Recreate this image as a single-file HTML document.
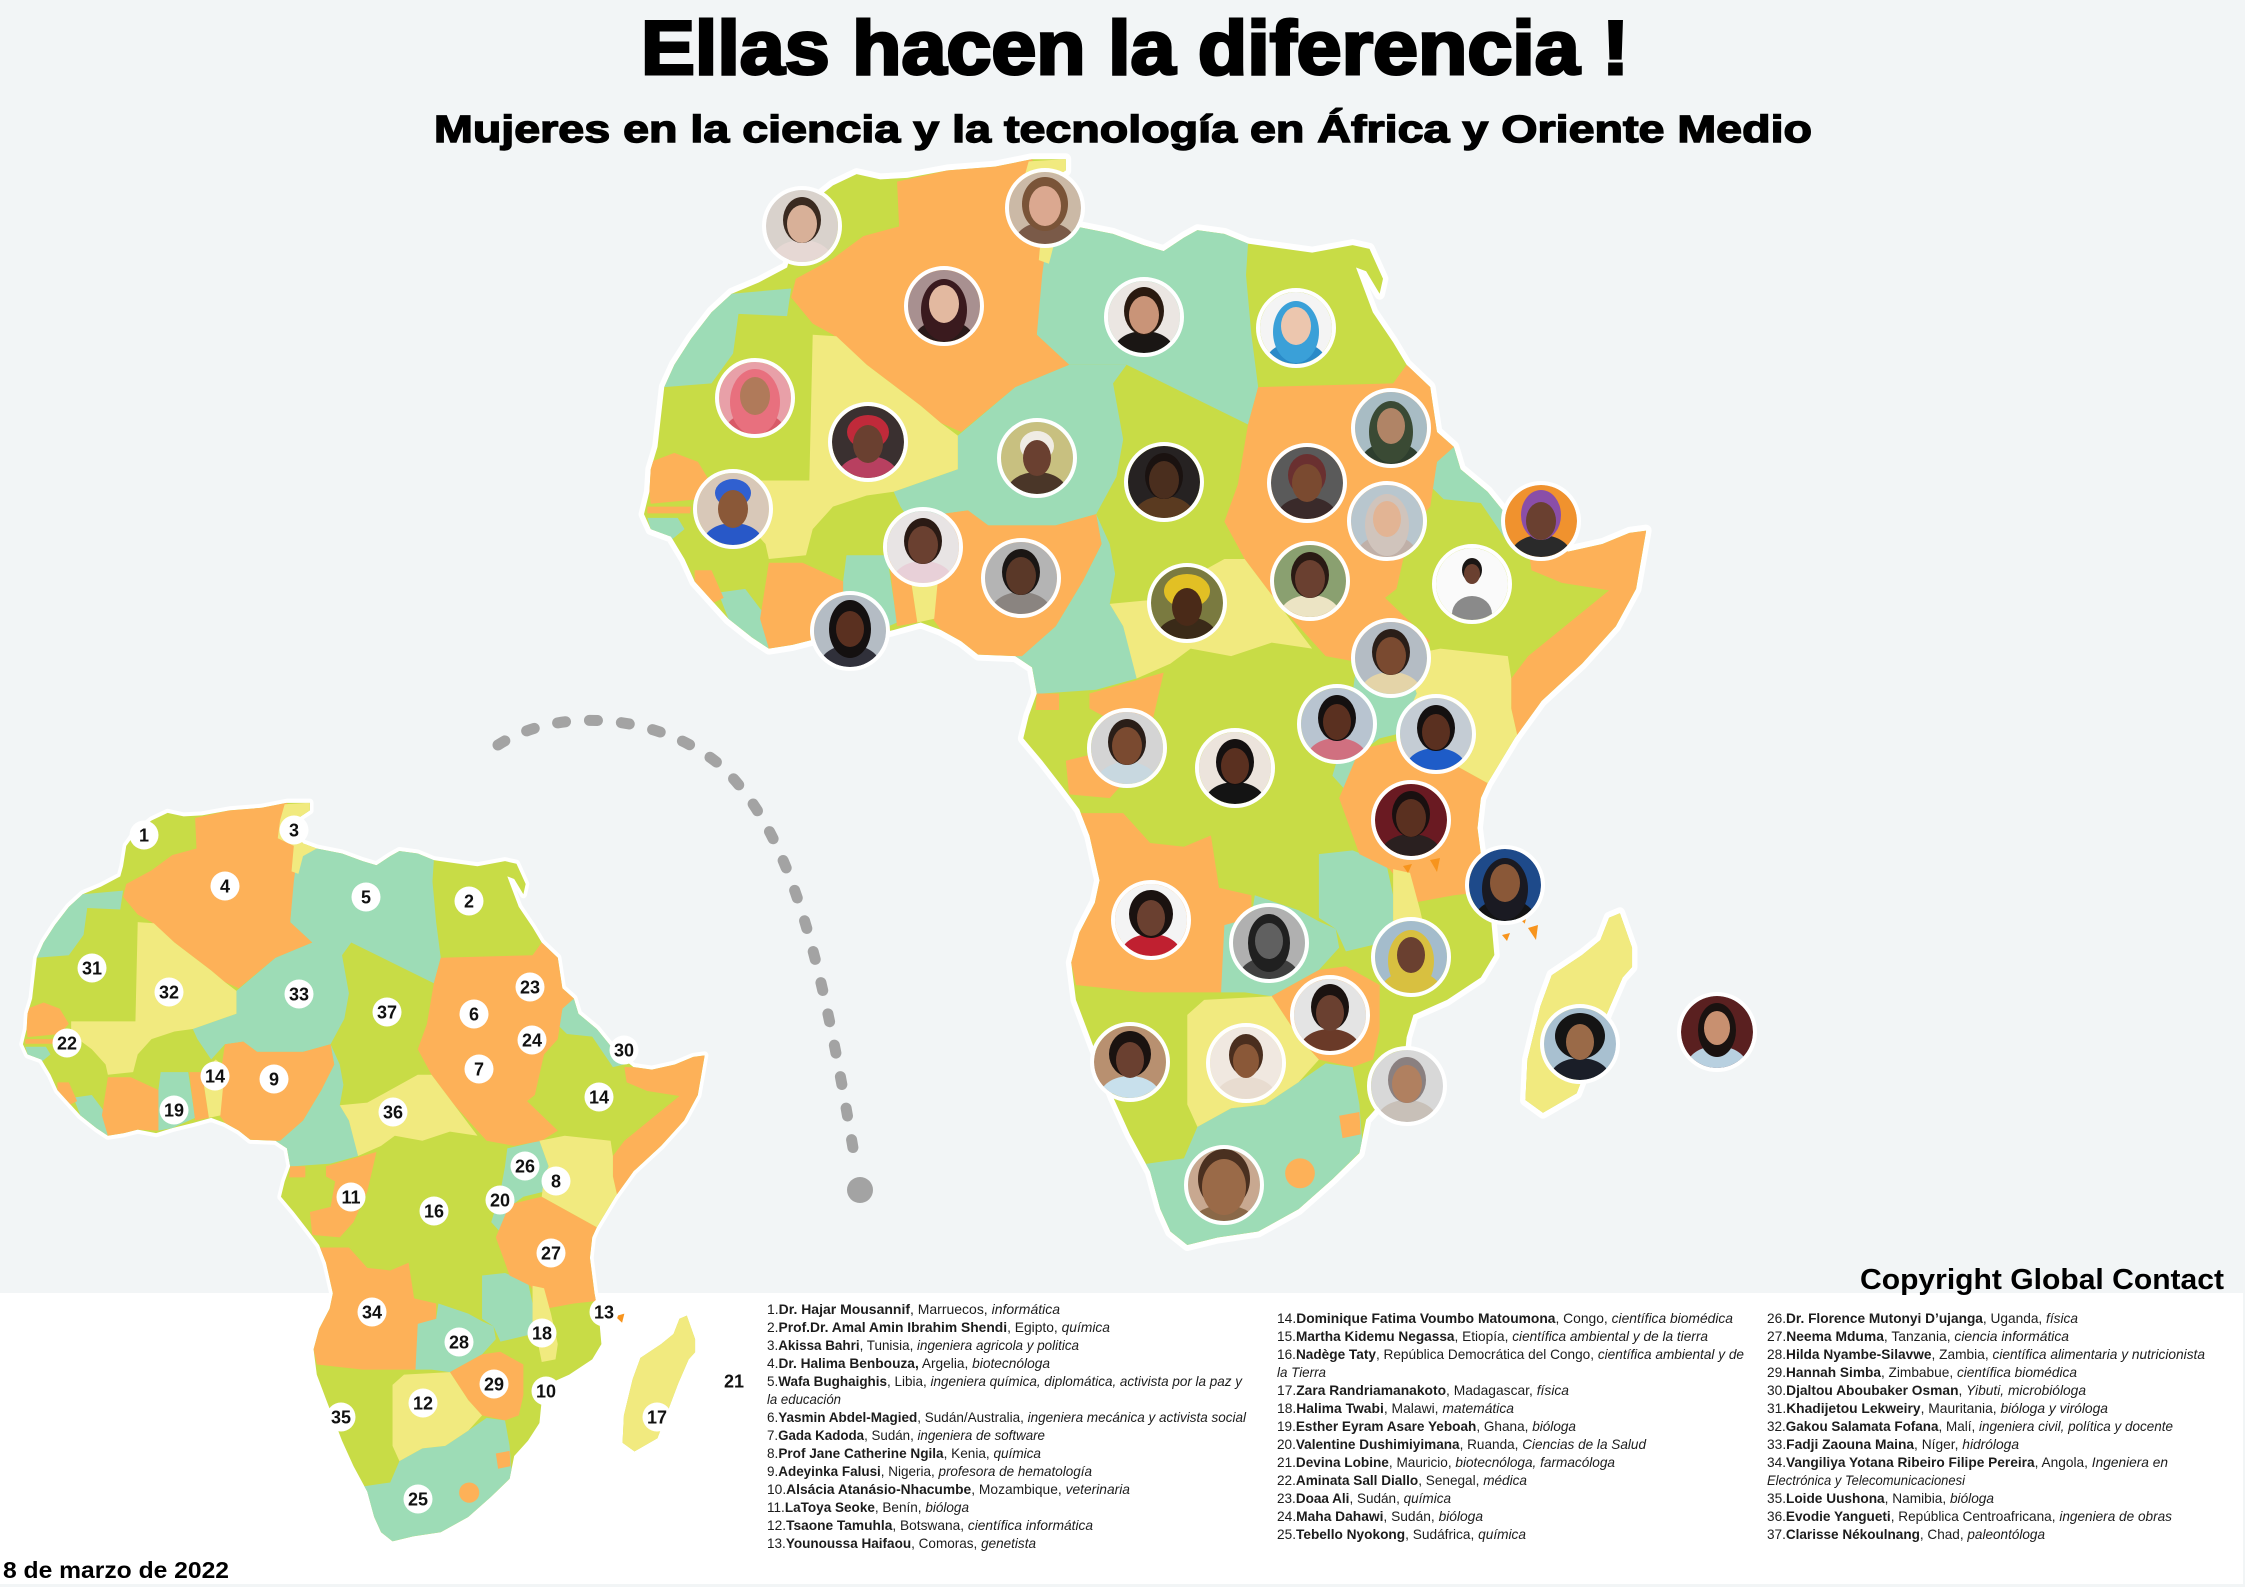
<!DOCTYPE html>
<html><head><meta charset="utf-8"><style>
html,body{margin:0;padding:0;background:#f2f5f6;}
svg{display:block;}
text{font-family:"Liberation Sans",Arial,sans-serif;}
.b{font-weight:bold}.i{font-style:italic}
.lg{font-size:14px;fill:#1c1c1c;}
.n{font-size:18px;font-weight:bold;fill:#111;text-anchor:middle;}
</style></head><body>
<svg width="2245" height="1587" viewBox="0 0 2245 1587" xmlns="http://www.w3.org/2000/svg">
<defs>
<clipPath id="ac">
<path d="M365,45 L400,52 L440,50 L500,40 L570,35 L625,25 L675,25 L675,40 L650,55 L645,85 L660,105 L690,115 L745,125 L790,140 L820,148 L850,130 L870,120 L910,125 L945,138 L1000,145 L1040,150 L1100,140 L1125,145 L1145,185 L1140,205 L1120,175 L1105,170 L1130,230 L1160,270 L1180,300 L1215,330 L1225,390 L1250,410 L1260,440 L1300,470 L1345,520 L1380,545 L1420,550 L1470,540 L1510,525 L1535,522 L1520,600 L1490,650 L1440,700 L1380,750 L1340,800 L1300,860 L1290,880 L1285,920 L1295,990 L1305,1040 L1310,1090 L1290,1120 L1240,1150 L1190,1170 L1180,1200 L1175,1245 L1150,1280 L1120,1310 L1110,1355 L1070,1390 L1020,1430 L960,1460 L900,1468 L855,1478 L830,1460 L815,1430 L800,1380 L770,1330 L745,1280 L715,1210 L690,1150 L683,1100 L695,1060 L718,1020 L725,990 L710,930 L695,895 L670,865 L640,830 L612,800 L620,770 L632,740 L625,705 L600,690 L545,688 L520,670 L490,655 L460,645 L420,655 L375,665 L340,675 L300,668 L270,675 L235,680 L210,665 L175,640 L150,615 L125,590 L110,560 L90,530 L60,520 L50,500 L58,470 L60,440 L70,410 L75,370 L80,330 L95,300 L120,265 L150,230 L180,205 L220,190 L262,170 L268,150 L275,110 L295,85 L330,60 Z"/>
<path d="M1496,1034 L1514,1080 L1514,1106 L1500,1120 L1477,1168 L1432,1275 L1382,1301 L1356,1284 L1359,1230 L1378,1159 L1395,1117 L1440,1090 L1467,1070 L1480,1040 Z"/>
</clipPath>
<clipPath id="pc"><circle cx="0" cy="0" r="36"/></clipPath>
<g id="afr">
<path d="M365,45 L400,52 L440,50 L500,40 L570,35 L625,25 L675,25 L675,40 L650,55 L645,85 L660,105 L690,115 L745,125 L790,140 L820,148 L850,130 L870,120 L910,125 L945,138 L1000,145 L1040,150 L1100,140 L1125,145 L1145,185 L1140,205 L1120,175 L1105,170 L1130,230 L1160,270 L1180,300 L1215,330 L1225,390 L1250,410 L1260,440 L1300,470 L1345,520 L1380,545 L1420,550 L1470,540 L1510,525 L1535,522 L1520,600 L1490,650 L1440,700 L1380,750 L1340,800 L1300,860 L1290,880 L1285,920 L1295,990 L1305,1040 L1310,1090 L1290,1120 L1240,1150 L1190,1170 L1180,1200 L1175,1245 L1150,1280 L1120,1310 L1110,1355 L1070,1390 L1020,1430 L960,1460 L900,1468 L855,1478 L830,1460 L815,1430 L800,1380 L770,1330 L745,1280 L715,1210 L690,1150 L683,1100 L695,1060 L718,1020 L725,990 L710,930 L695,895 L670,865 L640,830 L612,800 L620,770 L632,740 L625,705 L600,690 L545,688 L520,670 L490,655 L460,645 L420,655 L375,665 L340,675 L300,668 L270,675 L235,680 L210,665 L175,640 L150,615 L125,590 L110,560 L90,530 L60,520 L50,500 L58,470 L60,440 L70,410 L75,370 L80,330 L95,300 L120,265 L150,230 L180,205 L220,190 L262,170 L268,150 L275,110 L295,85 L330,60 Z" fill="#fff" stroke="#fff" stroke-width="16" stroke-linejoin="round"/>
<path d="M1496,1034 L1514,1080 L1514,1106 L1500,1120 L1477,1168 L1432,1275 L1382,1301 L1356,1284 L1359,1230 L1378,1159 L1395,1117 L1440,1090 L1467,1070 L1480,1040 Z" fill="#fff" stroke="#fff" stroke-width="16" stroke-linejoin="round"/>
<g clip-path="url(#ac)">
<rect x="0" y="0" width="1600" height="1600" fill="#c8dc46"/>
<g fill="#9ddcb6">
<path d="M80,330 L95,300 L120,265 L150,230 L180,205 L268,198 L262,235 L190,232 L182,285 L150,325 Z"/>
<path d="M640,165 L650,130 L690,115 L745,125 L790,140 L820,148 L850,130 L870,120 L910,125 L945,138 L942,180 L950,260 L960,330 L945,380 L855,340 L765,300 L680,300 L632,260 Z"/>
<path d="M515,395 L600,330 L680,300 L765,300 L745,325 L760,400 L750,450 L720,500 L660,515 L560,515 L530,495 L490,500 L460,530 L430,490 L420,470 L515,440 Z"/>
<path d="M1225,430 L1250,410 L1260,440 L1300,470 L1345,520 L1360,540 L1335,545 L1290,485 L1235,480 L1218,465 Z"/>
<path d="M1105,705 L1175,690 L1195,740 L1185,790 L1140,800 L1110,820 L1090,870 L1070,850 L1090,790 L1100,740 Z"/>
<path d="M55,505 L100,505 L110,520 L90,535 L60,520 Z"/>
<path d="M160,605 L200,600 L225,630 L235,680 L210,665 L175,640 Z"/>
<path d="M350,555 L410,555 L425,645 L375,665 L345,670 L345,590 Z"/>
<path d="M720,500 L740,540 L748,580 L740,620 L760,650 L775,700 L780,720 L720,735 L640,740 L632,740 L625,705 L600,690 L610,690 L660,650 L700,590 L728,540 Z"/>
<path d="M905,1050 L950,1040 L955,1010 L1020,1030 L1050,1045 L1075,1055 L1080,1080 L1050,1110 L980,1145 L940,1140 L905,1140 Z"/>
<path d="M1050,955 L1100,950 L1150,968 L1160,1010 L1160,1070 L1090,1085 L1075,1055 L1050,1040 Z"/>
<path d="M790,1370 L850,1362 L870,1320 L920,1295 L970,1290 L1020,1260 L1060,1235 L1100,1240 L1110,1290 L1115,1350 L1070,1390 L1020,1430 L960,1460 L900,1468 L855,1478 L830,1460 L815,1430 L800,1390 Z"/>
</g>
<g fill="#fdb158">
<path d="M425,55 L500,40 L570,35 L625,25 L640,70 L650,110 L640,180 L632,260 L680,300 L600,330 L520,390 L490,378 L460,355 L380,300 L330,260 L300,245 L268,210 L275,185 L330,158 L375,128 L428,115 Z"/>
<path d="M960,330 L1160,325 L1180,300 L1215,330 L1225,390 L1250,410 L1225,430 L1215,490 L1185,520 L1165,600 L1148,612 L1215,670 L1180,690 L1120,700 L1060,690 L990,620 L940,560 L910,510 L930,460 L945,380 Z"/>
<path d="M1360,545 L1380,545 L1420,550 L1470,540 L1510,525 L1535,522 L1520,600 L1490,650 L1440,700 L1380,750 L1345,800 L1335,760 L1335,720 L1360,690 L1480,602 L1410,592 L1365,575 Z"/>
<path d="M1080,880 L1110,815 L1180,800 L1240,830 L1300,860 L1290,880 L1285,920 L1295,990 L1300,1005 L1250,1010 L1190,1020 L1155,975 L1110,955 L1100,930 Z"/>
<path d="M60,430 L95,418 L130,430 L150,460 L130,480 L60,486 L58,470 Z"/>
<path d="M55,490 L120,490 L118,499 L55,499 Z"/>
<path d="M125,575 L150,575 L168,612 L145,622 L125,595 Z"/>
<path d="M235,565 L285,565 L345,590 L345,670 L300,668 L270,675 L235,680 L222,640 Z"/>
<path d="M412,555 L440,555 L455,645 L425,650 Z"/>
<path d="M490,500 L530,495 L560,515 L660,515 L720,500 L728,540 L700,590 L660,650 L610,690 L600,690 L545,688 L520,670 L490,655 L478,640 L480,560 Z"/>
<path d="M710,740 L820,712 L800,790 L770,850 L740,880 L680,875 L675,830 L720,820 L730,770 L710,760 Z"/>
<path d="M632,740 L665,740 L665,762 L630,762 Z"/>
<path d="M690,900 L760,900 L800,940 L850,945 L890,930 L902,1000 L950,1010 L950,1040 L910,1050 L905,1140 L790,1140 L690,1130 L683,1100 L695,1060 L718,1020 L725,990 L710,930 Z"/>
<path d="M980,1145 L1050,1110 L1090,1105 L1140,1130 L1140,1190 L1130,1230 L1100,1240 L1050,1230 L1020,1200 Z"/>
<ellipse cx="1022" cy="1382" rx="22" ry="20"/>
<path d="M1080,1305 L1110,1300 L1112,1330 L1085,1335 Z"/>
</g>
<g fill="#f1ea7f">
<path d="M620,28 L675,25 L675,40 L650,55 L645,85 L660,105 L690,115 L660,130 L650,165 L635,160 L640,110 L605,95 L610,60 Z"/>
<path d="M300,260 L335,262 L380,300 L460,355 L490,378 L515,395 L515,440 L420,470 L380,475 L330,490 L300,520 L290,555 L235,560 L230,540 L200,510 L155,480 L155,455 L295,455 Z"/>
<path d="M740,620 L800,615 L850,590 L910,560 L940,560 L990,620 L1040,680 L980,672 L920,690 L860,680 L830,700 L780,720 L760,650 Z"/>
<path d="M1175,690 L1230,680 L1330,690 L1335,720 L1335,760 L1345,800 L1300,860 L1240,830 L1180,800 L1185,760 L1195,740 Z"/>
<path d="M440,555 L470,530 L490,545 L480,640 L455,645 Z"/>
<path d="M855,1170 L880,1150 L980,1145 L1020,1200 L1050,1230 L1020,1260 L970,1290 L920,1295 L870,1320 L855,1290 Z"/>
<path d="M1160,975 L1185,980 L1200,1030 L1215,1090 L1210,1120 L1180,1125 L1170,1080 L1160,1050 Z"/>
<path d="M1340,1000 L1600,1000 L1600,1400 L1340,1400 Z"/>
</g>
</g>
<path d="M1340,1035 L1360,1030 L1355,1048 Z" fill="#f7941d"/>
</g>
</defs>

<rect x="0" y="0" width="2245" height="1587" fill="#f2f5f6"/>
<rect x="0" y="1293" width="2243" height="291" fill="#ffffff"/>

<use href="#afr" transform="matrix(0.4591 0 0 0.5084 0 790)"/>
<use href="#afr" transform="matrix(0.6749 0 0 0.7473 610.25 140.5)"/>

<g fill="#f7941d">
<path d="M1403,866 L1412,864 L1408,873 Z"/>
<path d="M1430,860 L1440,858 L1437,872 Z"/>
<path d="M1502,935 L1510,933 L1507,941 Z"/>
<path d="M1528,928 L1538,925 L1536,940 Z"/>
</g>

<path d="M498,745 C560,705 660,715 720,765 C790,830 820,950 855,1160" fill="none" stroke="#a3a3a3" stroke-width="11" stroke-linecap="round" stroke-dasharray="8 24"/>
<circle cx="860" cy="1190" r="13" fill="#a3a3a3"/>

<g id="portraits">
<g transform="translate(802,226)"><g clip-path="url(#pc)"><rect x="-37" y="-37" width="74" height="74" fill="#d9d2cc"/><ellipse cy="34" rx="30" ry="20" fill="#e6d8d4"/><ellipse cy="-6" rx="19" ry="23" fill="#3a2a20"/><ellipse cy="-2" rx="15" ry="19" fill="#d8b098"/></g><circle r="38" fill="none" stroke="#fff" stroke-width="4"/></g>
<g transform="translate(1045,208)"><g clip-path="url(#pc)"><rect x="-37" y="-37" width="74" height="74" fill="#cbb9a6"/><ellipse cy="34" rx="30" ry="20" fill="#7a5a48"/><ellipse cy="-4" rx="23" ry="27" fill="#7a5438"/><ellipse cy="-2" rx="16" ry="20" fill="#dba890"/></g><circle r="38" fill="none" stroke="#fff" stroke-width="4"/></g>
<g transform="translate(944,306)"><g clip-path="url(#pc)"><rect x="-37" y="-37" width="74" height="74" fill="#a89090"/><ellipse cy="34" rx="30" ry="20" fill="#2a1a1a"/><ellipse cy="4" rx="23" ry="31" fill="#3a1a1e"/><ellipse cy="-2" rx="15" ry="19" fill="#e3b9a0"/></g><circle r="38" fill="none" stroke="#fff" stroke-width="4"/></g>
<g transform="translate(1144,317)"><g clip-path="url(#pc)"><rect x="-37" y="-37" width="74" height="74" fill="#ebe6e2"/><ellipse cy="34" rx="30" ry="20" fill="#1a1614"/><ellipse cy="-6" rx="20" ry="24" fill="#2a1a10"/><ellipse cy="-2" rx="15" ry="19" fill="#c99478"/></g><circle r="38" fill="none" stroke="#fff" stroke-width="4"/></g>
<g transform="translate(1296,328)"><g clip-path="url(#pc)"><rect x="-37" y="-37" width="74" height="74" fill="#f4f4f4"/><ellipse cy="34" rx="30" ry="20" fill="#2a8ac8"/><ellipse cy="4" rx="23" ry="31" fill="#3aa0d8"/><ellipse cy="-2" rx="15" ry="19" fill="#ecc6ae"/></g><circle r="38" fill="none" stroke="#fff" stroke-width="4"/></g>
<g transform="translate(755,398)"><g clip-path="url(#pc)"><rect x="-37" y="-37" width="74" height="74" fill="#e8a0a8"/><ellipse cy="34" rx="30" ry="20" fill="#d85a68"/><ellipse cy="4" rx="25" ry="33" fill="#e8707e"/><ellipse cy="-2" rx="15" ry="19" fill="#b07a5a"/></g><circle r="38" fill="none" stroke="#fff" stroke-width="4"/></g>
<g transform="translate(868,442)"><g clip-path="url(#pc)"><rect x="-37" y="-37" width="74" height="74" fill="#3a3030"/><ellipse cy="34" rx="30" ry="20" fill="#b84060"/><ellipse cy="-10" rx="21" ry="17" fill="#c02a3a"/><ellipse cy="2" rx="15" ry="19" fill="#6a4030"/></g><circle r="38" fill="none" stroke="#fff" stroke-width="4"/></g>
<g transform="translate(1037,458)"><g clip-path="url(#pc)"><rect x="-37" y="-37" width="74" height="74" fill="#c8c080"/><ellipse cy="34" rx="30" ry="20" fill="#4a3628"/><ellipse cy="-12" rx="17" ry="15" fill="#f0ece4"/><ellipse cy="0" rx="14" ry="18" fill="#6a4030"/></g><circle r="38" fill="none" stroke="#fff" stroke-width="4"/></g>
<g transform="translate(1391,428)"><g clip-path="url(#pc)"><rect x="-37" y="-37" width="74" height="74" fill="#a8bcc4"/><ellipse cy="34" rx="30" ry="20" fill="#2e3e2e"/><ellipse cy="4" rx="22" ry="31" fill="#3a4a34"/><ellipse cy="-2" rx="14" ry="18" fill="#b08466"/></g><circle r="38" fill="none" stroke="#fff" stroke-width="4"/></g>
<g transform="translate(733,509)"><g clip-path="url(#pc)"><rect x="-37" y="-37" width="74" height="74" fill="#d8c8b8"/><ellipse cy="34" rx="30" ry="20" fill="#2858c8"/><ellipse cy="-16" rx="18" ry="14" fill="#3060d0"/><ellipse cy="0" rx="15" ry="19" fill="#8a5838"/></g><circle r="38" fill="none" stroke="#fff" stroke-width="4"/></g>
<g transform="translate(1164,482)"><g clip-path="url(#pc)"><rect x="-37" y="-37" width="74" height="74" fill="#262222"/><ellipse cy="34" rx="30" ry="20" fill="#5a3a20"/><ellipse cy="-6" rx="19" ry="23" fill="#1a1210"/><ellipse cy="-2" rx="15" ry="19" fill="#4a2e1e"/></g><circle r="38" fill="none" stroke="#fff" stroke-width="4"/></g>
<g transform="translate(1307,483)"><g clip-path="url(#pc)"><rect x="-37" y="-37" width="74" height="74" fill="#5a5a5a"/><ellipse cy="34" rx="30" ry="20" fill="#3a2a2a"/><ellipse cy="-8" rx="19" ry="21" fill="#6a3030"/><ellipse cy="0" rx="15" ry="19" fill="#7a4a30"/></g><circle r="38" fill="none" stroke="#fff" stroke-width="4"/></g>
<g transform="translate(1387,521)"><g clip-path="url(#pc)"><rect x="-37" y="-37" width="74" height="74" fill="#b8c6ce"/><ellipse cy="34" rx="30" ry="20" fill="#c0b0a8"/><ellipse cy="4" rx="22" ry="31" fill="#d0c4bc"/><ellipse cy="-2" rx="14" ry="18" fill="#e2b494"/></g><circle r="38" fill="none" stroke="#fff" stroke-width="4"/></g>
<g transform="translate(1541,521)"><g clip-path="url(#pc)"><rect x="-37" y="-37" width="74" height="74" fill="#f0922e"/><ellipse cy="34" rx="30" ry="20" fill="#2a2a2a"/><ellipse cy="-6" rx="20" ry="25" fill="#8a4ea8"/><ellipse cy="0" rx="15" ry="19" fill="#6a4030"/></g><circle r="38" fill="none" stroke="#fff" stroke-width="4"/></g>
<g transform="translate(923,547)"><g clip-path="url(#pc)"><rect x="-37" y="-37" width="74" height="74" fill="#e8e4e4"/><ellipse cy="34" rx="30" ry="20" fill="#e8d0d8"/><ellipse cy="-6" rx="19" ry="23" fill="#2a1a14"/><ellipse cy="-2" rx="15" ry="19" fill="#6a4030"/></g><circle r="38" fill="none" stroke="#fff" stroke-width="4"/></g>
<g transform="translate(1021,578)"><g clip-path="url(#pc)"><rect x="-37" y="-37" width="74" height="74" fill="#b4b4b4"/><ellipse cy="34" rx="30" ry="20" fill="#8a8480"/><ellipse cy="-6" rx="19" ry="23" fill="#1a1614"/><ellipse cy="-2" rx="15" ry="19" fill="#5a3828"/></g><circle r="38" fill="none" stroke="#fff" stroke-width="4"/></g>
<g transform="translate(1187,603)"><g clip-path="url(#pc)"><rect x="-37" y="-37" width="74" height="74" fill="#7a7a40"/><ellipse cy="34" rx="30" ry="20" fill="#3a2a18"/><ellipse cy="-12" rx="23" ry="17" fill="#e2c024"/><ellipse cy="4" rx="15" ry="19" fill="#4a2a18"/></g><circle r="38" fill="none" stroke="#fff" stroke-width="4"/></g>
<g transform="translate(1310,581)"><g clip-path="url(#pc)"><rect x="-37" y="-37" width="74" height="74" fill="#8aa070"/><ellipse cy="34" rx="30" ry="20" fill="#ece4c4"/><ellipse cy="-6" rx="19" ry="23" fill="#2a1a14"/><ellipse cy="-2" rx="15" ry="19" fill="#6a4030"/></g><circle r="38" fill="none" stroke="#fff" stroke-width="4"/></g>
<g transform="translate(1472,584)"><g clip-path="url(#pc)"><rect x="-37" y="-37" width="74" height="74" fill="#fafafa"/><ellipse cy="30" rx="20" ry="18" fill="#8a8a8a"/><ellipse cy="-14" rx="10" ry="12" fill="#1a1614"/><ellipse cy="-10" rx="8" ry="10" fill="#6a4030"/></g><circle r="38" fill="none" stroke="#fff" stroke-width="4"/></g>
<g transform="translate(850,631)"><g clip-path="url(#pc)"><rect x="-37" y="-37" width="74" height="74" fill="#b4bcc4"/><ellipse cy="34" rx="30" ry="20" fill="#30303a"/><ellipse cy="-2" rx="21" ry="29" fill="#141010"/><ellipse cy="-2" rx="14" ry="18" fill="#5a3020"/></g><circle r="38" fill="none" stroke="#fff" stroke-width="4"/></g>
<g transform="translate(1391,658)"><g clip-path="url(#pc)"><rect x="-37" y="-37" width="74" height="74" fill="#b4bcc4"/><ellipse cy="34" rx="30" ry="20" fill="#e4d4a8"/><ellipse cy="-6" rx="19" ry="23" fill="#2a1e18"/><ellipse cy="-2" rx="15" ry="19" fill="#7a4a30"/></g><circle r="38" fill="none" stroke="#fff" stroke-width="4"/></g>
<g transform="translate(1337,724)"><g clip-path="url(#pc)"><rect x="-37" y="-37" width="74" height="74" fill="#b8c4d0"/><ellipse cy="34" rx="30" ry="20" fill="#d07080"/><ellipse cy="-6" rx="19" ry="23" fill="#141010"/><ellipse cy="-2" rx="14" ry="18" fill="#5a3020"/></g><circle r="38" fill="none" stroke="#fff" stroke-width="4"/></g>
<g transform="translate(1436,734)"><g clip-path="url(#pc)"><rect x="-37" y="-37" width="74" height="74" fill="#c4ccd4"/><ellipse cy="34" rx="30" ry="20" fill="#1e5cc8"/><ellipse cy="-6" rx="19" ry="23" fill="#141010"/><ellipse cy="-2" rx="14" ry="18" fill="#5a3020"/></g><circle r="38" fill="none" stroke="#fff" stroke-width="4"/></g>
<g transform="translate(1127,748)"><g clip-path="url(#pc)"><rect x="-37" y="-37" width="74" height="74" fill="#d4d4d4"/><ellipse cy="34" rx="30" ry="20" fill="#c8d8e0"/><ellipse cy="-6" rx="19" ry="23" fill="#2a1e18"/><ellipse cy="-2" rx="15" ry="19" fill="#7a4a30"/></g><circle r="38" fill="none" stroke="#fff" stroke-width="4"/></g>
<g transform="translate(1235,768)"><g clip-path="url(#pc)"><rect x="-37" y="-37" width="74" height="74" fill="#ece4dc"/><ellipse cy="34" rx="30" ry="20" fill="#141414"/><ellipse cy="-6" rx="19" ry="23" fill="#141010"/><ellipse cy="-2" rx="14" ry="18" fill="#5a3020"/></g><circle r="38" fill="none" stroke="#fff" stroke-width="4"/></g>
<g transform="translate(1411,820)"><g clip-path="url(#pc)"><rect x="-37" y="-37" width="74" height="74" fill="#6a1a22"/><ellipse cy="34" rx="30" ry="20" fill="#2a2020"/><ellipse cy="-6" rx="19" ry="23" fill="#1a1010"/><ellipse cy="-2" rx="15" ry="19" fill="#5a3020"/></g><circle r="38" fill="none" stroke="#fff" stroke-width="4"/></g>
<g transform="translate(1505,885)"><g clip-path="url(#pc)"><rect x="-37" y="-37" width="74" height="74" fill="#1e4a8a"/><ellipse cy="34" rx="30" ry="20" fill="#141414"/><ellipse cy="4" rx="23" ry="31" fill="#1a1a22"/><ellipse cy="-2" rx="15" ry="19" fill="#8a5838"/></g><circle r="38" fill="none" stroke="#fff" stroke-width="4"/></g>
<g transform="translate(1151,920)"><g clip-path="url(#pc)"><rect x="-37" y="-37" width="74" height="74" fill="#f4f4f4"/><ellipse cy="34" rx="30" ry="20" fill="#c02030"/><ellipse cy="-6" rx="22" ry="24" fill="#1a1210"/><ellipse cy="-2" rx="14" ry="18" fill="#6a4030"/></g><circle r="38" fill="none" stroke="#fff" stroke-width="4"/></g>
<g transform="translate(1269,943)"><g clip-path="url(#pc)"><rect x="-37" y="-37" width="74" height="74" fill="#b0b0b0"/><ellipse cy="34" rx="30" ry="20" fill="#404040"/><ellipse cy="0" rx="21" ry="29" fill="#202020"/><ellipse cy="-2" rx="14" ry="18" fill="#606060"/></g><circle r="38" fill="none" stroke="#fff" stroke-width="4"/></g>
<g transform="translate(1411,957)"><g clip-path="url(#pc)"><rect x="-37" y="-37" width="74" height="74" fill="#a4bccc"/><ellipse cy="34" rx="30" ry="20" fill="#d8c040"/><ellipse cy="4" rx="23" ry="31" fill="#d8c040"/><ellipse cy="-2" rx="14" ry="18" fill="#6a4030"/></g><circle r="38" fill="none" stroke="#fff" stroke-width="4"/></g>
<g transform="translate(1330,1015)"><g clip-path="url(#pc)"><rect x="-37" y="-37" width="74" height="74" fill="#e4e4e4"/><ellipse cy="34" rx="30" ry="20" fill="#6a3a28"/><ellipse cy="-8" rx="19" ry="23" fill="#1a1210"/><ellipse cy="-2" rx="14" ry="18" fill="#6a4030"/></g><circle r="38" fill="none" stroke="#fff" stroke-width="4"/></g>
<g transform="translate(1580,1044)"><g clip-path="url(#pc)"><rect x="-37" y="-37" width="74" height="74" fill="#a8c0d0"/><ellipse cy="34" rx="30" ry="20" fill="#1a1e28"/><ellipse cy="-8" rx="25" ry="23" fill="#141414"/><ellipse cy="-2" rx="14" ry="18" fill="#9a6a48"/></g><circle r="38" fill="none" stroke="#fff" stroke-width="4"/></g>
<g transform="translate(1717,1032)"><g clip-path="url(#pc)"><rect x="-37" y="-37" width="74" height="74" fill="#5a2020"/><ellipse cy="34" rx="30" ry="20" fill="#b8d0e0"/><ellipse cy="-2" rx="19" ry="27" fill="#1a1210"/><ellipse cy="-4" rx="13" ry="17" fill="#c89070"/></g><circle r="38" fill="none" stroke="#fff" stroke-width="4"/></g>
<g transform="translate(1130,1062)"><g clip-path="url(#pc)"><rect x="-37" y="-37" width="74" height="74" fill="#b89070"/><ellipse cy="34" rx="30" ry="20" fill="#c8e0ec"/><ellipse cy="-8" rx="21" ry="23" fill="#1a1210"/><ellipse cy="-2" rx="14" ry="18" fill="#6a4030"/></g><circle r="38" fill="none" stroke="#fff" stroke-width="4"/></g>
<g transform="translate(1246,1063)"><g clip-path="url(#pc)"><rect x="-37" y="-37" width="74" height="74" fill="#f0e8e0"/><ellipse cy="34" rx="30" ry="20" fill="#e8dcd0"/><ellipse cy="-8" rx="17" ry="21" fill="#4a2e1e"/><ellipse cy="-2" rx="13" ry="17" fill="#8a5838"/></g><circle r="38" fill="none" stroke="#fff" stroke-width="4"/></g>
<g transform="translate(1407,1086)"><g clip-path="url(#pc)"><rect x="-37" y="-37" width="74" height="74" fill="#d8d8d8"/><ellipse cy="34" rx="30" ry="20" fill="#c8c0b8"/><ellipse cy="-6" rx="19" ry="23" fill="#8a8080"/><ellipse cy="-2" rx="15" ry="19" fill="#b08060"/></g><circle r="38" fill="none" stroke="#fff" stroke-width="4"/></g>
<g transform="translate(1224,1185)"><g clip-path="url(#pc)"><rect x="-37" y="-37" width="74" height="74" fill="#c8a890"/><ellipse cy="36" rx="30" ry="16" fill="#8a6848"/><ellipse cy="-6" rx="26" ry="30" fill="#4a3020"/><ellipse cy="2" rx="22" ry="28" fill="#9a6a48"/></g><circle r="38" fill="none" stroke="#fff" stroke-width="4"/></g>
</g>

<g fill="#fff">
<circle cx="144" cy="835" r="14.5"/><circle cx="294" cy="830" r="14.5"/><circle cx="225" cy="886" r="14.5"/><circle cx="366" cy="897" r="14.5"/><circle cx="469" cy="901" r="14.5"/>
<circle cx="92" cy="968" r="14.5"/><circle cx="169" cy="992" r="14.5"/><circle cx="299" cy="994" r="14.5"/><circle cx="387" cy="1012" r="14.5"/><circle cx="474" cy="1014" r="14.5"/>
<circle cx="530" cy="987" r="14.5"/><circle cx="532" cy="1040" r="14.5"/><circle cx="479" cy="1069" r="14.5"/><circle cx="67" cy="1043" r="14.5"/><circle cx="215" cy="1076" r="14.5"/>
<circle cx="274" cy="1079" r="14.5"/><circle cx="174" cy="1110" r="14.5"/><circle cx="624" cy="1050" r="14.5"/><circle cx="599" cy="1097" r="14.5"/><circle cx="393" cy="1112" r="14.5"/>
<circle cx="525" cy="1166" r="14.5"/><circle cx="556" cy="1181" r="14.5"/><circle cx="351" cy="1197" r="14.5"/><circle cx="434" cy="1211" r="14.5"/><circle cx="500" cy="1200" r="14.5"/>
<circle cx="551" cy="1253" r="14.5"/><circle cx="372" cy="1312" r="14.5"/><circle cx="604" cy="1312" r="14.5"/><circle cx="459" cy="1342" r="14.5"/><circle cx="542" cy="1333" r="14.5"/>
<circle cx="494" cy="1384" r="14.5"/><circle cx="546" cy="1391" r="14.5"/><circle cx="423" cy="1403" r="14.5"/><circle cx="341" cy="1417" r="14.5"/><circle cx="657" cy="1417" r="14.5"/>
<circle cx="418" cy="1499" r="14.5"/>
</g>
<g>
<text class="n" x="144" y="841.5">1</text><text class="n" x="294" y="836.5">3</text><text class="n" x="225" y="892.5">4</text><text class="n" x="366" y="903.5">5</text><text class="n" x="469" y="907.5">2</text>
<text class="n" x="92" y="974.5">31</text><text class="n" x="169" y="998.5">32</text><text class="n" x="299" y="1000.5">33</text><text class="n" x="387" y="1018.5">37</text><text class="n" x="474" y="1020.5">6</text>
<text class="n" x="530" y="993.5">23</text><text class="n" x="532" y="1046.5">24</text><text class="n" x="479" y="1075.5">7</text><text class="n" x="67" y="1049.5">22</text><text class="n" x="215" y="1082.5">14</text>
<text class="n" x="274" y="1085.5">9</text><text class="n" x="174" y="1116.5">19</text><text class="n" x="624" y="1056.5">30</text><text class="n" x="599" y="1103.5">14</text><text class="n" x="393" y="1118.5">36</text>
<text class="n" x="525" y="1172.5">26</text><text class="n" x="556" y="1187.5">8</text><text class="n" x="351" y="1203.5">11</text><text class="n" x="434" y="1217.5">16</text><text class="n" x="500" y="1206.5">20</text>
<text class="n" x="551" y="1259.5">27</text><text class="n" x="372" y="1318.5">34</text><text class="n" x="604" y="1318.5">13</text><text class="n" x="459" y="1348.5">28</text><text class="n" x="542" y="1339.5">18</text>
<text class="n" x="494" y="1390.5">29</text><text class="n" x="546" y="1397.5">10</text><text class="n" x="423" y="1409.5">12</text><text class="n" x="341" y="1423.5">35</text><text class="n" x="657" y="1423.5">17</text>
<text class="n" x="418" y="1505.5">25</text>
<text class="n" x="734" y="1387.5">21</text>
</g>

<text x="641" y="74" font-size="76" font-weight="bold" fill="#000" stroke="#000" stroke-width="3" textLength="988" lengthAdjust="spacingAndGlyphs">Ellas hacen la diferencia !</text>
<text x="434" y="142" font-size="38" font-weight="bold" fill="#000" stroke="#000" stroke-width="1.4" textLength="1378" lengthAdjust="spacingAndGlyphs">Mujeres en la ciencia y la tecnología en África y Oriente Medio</text>

<text x="1860" y="1289" font-size="29" font-weight="bold" fill="#000" textLength="364" lengthAdjust="spacingAndGlyphs">Copyright Global Contact</text>
<text x="3" y="1578" font-size="23" font-weight="bold" fill="#000" textLength="226" lengthAdjust="spacingAndGlyphs">8 de marzo de 2022</text>

<g class="lg">
<text x="767" y="1314" textLength="293" lengthAdjust="spacingAndGlyphs">1.<tspan class="b">Dr. Hajar Mousannif</tspan>, Marruecos, <tspan class="i">informática</tspan></text>
<text x="767" y="1332" textLength="343" lengthAdjust="spacingAndGlyphs">2.<tspan class="b">Prof.Dr. Amal Amin Ibrahim Shendi</tspan>, Egipto, <tspan class="i">química</tspan></text>
<text x="767" y="1350" textLength="312" lengthAdjust="spacingAndGlyphs">3.<tspan class="b">Akissa Bahri</tspan>, Tunisia, <tspan class="i">ingeniera agricola y politica</tspan></text>
<text x="767" y="1368" textLength="283" lengthAdjust="spacingAndGlyphs">4.<tspan class="b">Dr. Halima Benbouza,</tspan> Argelia, <tspan class="i">biotecnóloga</tspan></text>
<text x="767" y="1386" textLength="475" lengthAdjust="spacingAndGlyphs">5.<tspan class="b">Wafa Bughaighis</tspan>, Libia, <tspan class="i">ingeniera química, diplomática, activista por la paz y</tspan></text>
<text x="767" y="1404" textLength="74" lengthAdjust="spacingAndGlyphs"><tspan class="i">la educación</tspan></text>
<text x="767" y="1422" textLength="479" lengthAdjust="spacingAndGlyphs">6.<tspan class="b">Yasmin Abdel-Magied</tspan>, Sudán/Australia, <tspan class="i">ingeniera mecánica y activista social</tspan></text>
<text x="767" y="1440" textLength="278" lengthAdjust="spacingAndGlyphs">7.<tspan class="b">Gada Kadoda</tspan>, Sudán, <tspan class="i">ingeniera de software</tspan></text>
<text x="767" y="1458" textLength="274" lengthAdjust="spacingAndGlyphs">8.<tspan class="b">Prof Jane Catherine Ngila</tspan>, Kenia, <tspan class="i">química</tspan></text>
<text x="767" y="1476" textLength="325" lengthAdjust="spacingAndGlyphs">9.<tspan class="b">Adeyinka Falusi</tspan>, Nigeria, <tspan class="i">profesora de hematología</tspan></text>
<text x="767" y="1494" textLength="363" lengthAdjust="spacingAndGlyphs">10.<tspan class="b">Alsácia Atanásio-Nhacumbe</tspan>, Mozambique, <tspan class="i">veterinaria</tspan></text>
<text x="767" y="1512" textLength="202" lengthAdjust="spacingAndGlyphs">11.<tspan class="b">LaToya Seoke</tspan>, Benín, <tspan class="i">bióloga</tspan></text>
<text x="767" y="1530" textLength="326" lengthAdjust="spacingAndGlyphs">12.<tspan class="b">Tsaone Tamuhla</tspan>, Botswana, <tspan class="i">científica informática</tspan></text>
<text x="767" y="1548" textLength="269" lengthAdjust="spacingAndGlyphs">13.<tspan class="b">Younoussa Haifaou</tspan>, Comoras, <tspan class="i">genetista</tspan></text>
</g>

<g class="lg">
<text x="1277" y="1323" textLength="456" lengthAdjust="spacingAndGlyphs">14.<tspan class="b">Dominique Fatima Voumbo Matoumona</tspan>, Congo, <tspan class="i">científica biomédica</tspan></text>
<text x="1277" y="1341" textLength="431" lengthAdjust="spacingAndGlyphs">15.<tspan class="b">Martha Kidemu Negassa</tspan>, Etiopía, <tspan class="i">científica ambiental y de la tierra</tspan></text>
<text x="1277" y="1359" textLength="467" lengthAdjust="spacingAndGlyphs">16.<tspan class="b">Nadège Taty</tspan>, República Democrática del Congo, <tspan class="i">científica ambiental y de</tspan></text>
<text x="1277" y="1377" textLength="49" lengthAdjust="spacingAndGlyphs"><tspan class="i">la Tierra</tspan></text>
<text x="1277" y="1395" textLength="292" lengthAdjust="spacingAndGlyphs">17.<tspan class="b">Zara Randriamanakoto</tspan>, Madagascar, <tspan class="i">física</tspan></text>
<text x="1277" y="1413" textLength="237" lengthAdjust="spacingAndGlyphs">18.<tspan class="b">Halima Twabi</tspan>, Malawi, <tspan class="i">matemática</tspan></text>
<text x="1277" y="1431" textLength="299" lengthAdjust="spacingAndGlyphs">19.<tspan class="b">Esther Eyram Asare Yeboah</tspan>, Ghana, <tspan class="i">bióloga</tspan></text>
<text x="1277" y="1449" textLength="369" lengthAdjust="spacingAndGlyphs">20.<tspan class="b">Valentine Dushimiyimana</tspan>, Ruanda, <tspan class="i">Ciencias de la Salud</tspan></text>
<text x="1277" y="1467" textLength="338" lengthAdjust="spacingAndGlyphs">21.<tspan class="b">Devina Lobine</tspan>, Mauricio, <tspan class="i">biotecnóloga, farmacóloga</tspan></text>
<text x="1277" y="1485" textLength="250" lengthAdjust="spacingAndGlyphs">22.<tspan class="b">Aminata Sall Diallo</tspan>, Senegal, <tspan class="i">médica</tspan></text>
<text x="1277" y="1503" textLength="174" lengthAdjust="spacingAndGlyphs">23.<tspan class="b">Doaa Ali</tspan>, Sudán, <tspan class="i">química</tspan></text>
<text x="1277" y="1521" textLength="206" lengthAdjust="spacingAndGlyphs">24.<tspan class="b">Maha Dahawi</tspan>, Sudán, <tspan class="i">bióloga</tspan></text>
<text x="1277" y="1539" textLength="249" lengthAdjust="spacingAndGlyphs">25.<tspan class="b">Tebello Nyokong</tspan>, Sudáfrica, <tspan class="i">química</tspan></text>
</g>

<g class="lg">
<text x="1767" y="1323" textLength="311" lengthAdjust="spacingAndGlyphs">26.<tspan class="b">Dr. Florence Mutonyi D’ujanga</tspan>, Uganda, <tspan class="i">física</tspan></text>
<text x="1767" y="1341" textLength="302" lengthAdjust="spacingAndGlyphs">27.<tspan class="b">Neema Mduma</tspan>, Tanzania, <tspan class="i">ciencia informática</tspan></text>
<text x="1767" y="1359" textLength="438" lengthAdjust="spacingAndGlyphs">28.<tspan class="b">Hilda Nyambe-Silavwe</tspan>, Zambia, <tspan class="i">científica alimentaria y nutricionista</tspan></text>
<text x="1767" y="1377" textLength="310" lengthAdjust="spacingAndGlyphs">29.<tspan class="b">Hannah Simba</tspan>, Zimbabue, <tspan class="i">científica biomédica</tspan></text>
<text x="1767" y="1395" textLength="319" lengthAdjust="spacingAndGlyphs">30.<tspan class="b">Djaltou Aboubaker Osman</tspan>, <tspan class="i">Yibuti, microbióloga</tspan></text>
<text x="1767" y="1413" textLength="341" lengthAdjust="spacingAndGlyphs">31.<tspan class="b">Khadijetou Lekweiry</tspan>, Mauritania, <tspan class="i">bióloga y viróloga</tspan></text>
<text x="1767" y="1431" textLength="406" lengthAdjust="spacingAndGlyphs">32.<tspan class="b">Gakou Salamata Fofana</tspan>, Malí, <tspan class="i">ingeniera civil, política y docente</tspan></text>
<text x="1767" y="1449" textLength="252" lengthAdjust="spacingAndGlyphs">33.<tspan class="b">Fadji Zaouna Maina</tspan>, Níger, <tspan class="i">hidróloga</tspan></text>
<text x="1767" y="1467" textLength="401" lengthAdjust="spacingAndGlyphs">34.<tspan class="b">Vangiliya Yotana Ribeiro Filipe Pereira</tspan>, Angola, <tspan class="i">Ingeniera en</tspan></text>
<text x="1767" y="1485" textLength="198" lengthAdjust="spacingAndGlyphs"><tspan class="i">Electrónica y Telecomunicacionesi</tspan></text>
<text x="1767" y="1503" textLength="227" lengthAdjust="spacingAndGlyphs">35.<tspan class="b">Loide Uushona</tspan>, Namibia, <tspan class="i">bióloga</tspan></text>
<text x="1767" y="1521" textLength="405" lengthAdjust="spacingAndGlyphs">36.<tspan class="b">Evodie Yangueti</tspan>, República Centroafricana, <tspan class="i">ingeniera de obras</tspan></text>
<text x="1767" y="1539" textLength="278" lengthAdjust="spacingAndGlyphs">37.<tspan class="b">Clarisse Nékoulnang</tspan>, Chad, <tspan class="i">paleontóloga</tspan></text>
</g>
</svg>
</body></html>
